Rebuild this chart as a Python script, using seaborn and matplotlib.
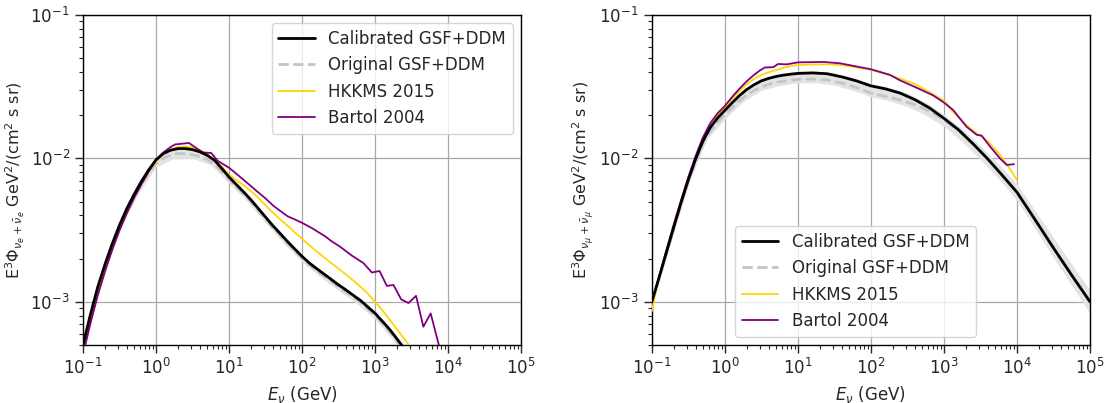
import numpy as np
import matplotlib
matplotlib.use('Agg')
import matplotlib.pyplot as plt
import seaborn as sns

# energies are given as log10(E / GeV)

# ---- electron neutrino panel ----
loge_fine_e = [-1.0, -0.9, -0.8, -0.7, -0.6, -0.5, -0.4, -0.3, -0.2, -0.1, 0.0, 0.1, 0.2, 0.3, 0.4,
               0.5, 0.6, 0.7, 0.8, 0.9, 1.0, 1.1, 1.2, 1.3, 1.4, 1.5, 1.6, 1.7, 1.8, 1.9, 2.0, 2.1,
               2.2, 2.3, 2.4, 2.5, 2.6, 2.7, 2.8, 2.9, 3.0, 3.1, 3.2, 3.3, 3.4]
cal_e = [5.0e-4, 8.1e-4, 1.26e-3, 1.82e-3, 2.54e-3, 3.43e-3, 4.47e-3, 5.62e-3, 6.92e-3, 8.32e-3,
         9.77e-3, 1.08e-2, 1.14e-2, 1.17e-2, 1.17e-2, 1.15e-2, 1.11e-2, 1.05e-2, 9.7e-3, 8.5e-3,
         7.4e-3, 6.56e-3, 5.82e-3, 5.13e-3, 4.47e-3, 3.89e-3, 3.39e-3, 2.99e-3, 2.63e-3, 2.33e-3,
         2.07e-3, 1.86e-3, 1.70e-3, 1.56e-3, 1.43e-3, 1.31e-3, 1.21e-3, 1.11e-3, 1.02e-3, 9.2e-4,
         8.3e-4, 7.3e-4, 6.4e-4, 5.5e-4, 4.7e-4]
orig_e = [4.8e-4, 7.8e-4, 1.21e-3, 1.75e-3, 2.44e-3, 3.29e-3, 4.29e-3, 5.4e-3, 6.6e-3, 7.9e-3,
          9.2e-3, 1.0e-2, 1.05e-2, 1.08e-2, 1.08e-2, 1.06e-2, 1.03e-2, 9.8e-3, 9.1e-3, 8.1e-3,
          7.1e-3, 6.33e-3, 5.64e-3, 4.98e-3, 4.34e-3, 3.77e-3, 3.29e-3, 2.9e-3, 2.55e-3, 2.26e-3,
          2.01e-3, 1.8e-3, 1.65e-3, 1.51e-3, 1.39e-3, 1.27e-3, 1.17e-3, 1.08e-3, 9.9e-4, 8.9e-4,
          8.0e-4, 7.1e-4, 6.2e-4, 5.3e-4, 4.55e-4]

loge_band_e = [-1.0, -0.75, -0.5, -0.25, 0.0, 0.25, 0.5, 0.75, 1.0, 1.25, 1.5, 1.75, 2.0, 2.25,
               2.5, 2.75, 3.0, 3.25, 3.5]
band_lo_e = [4.55e-4, 1.43e-3, 3.12e-3, 5.6e-3, 8.7e-3, 1.0e-2, 1.0e-2, 9.0e-3, 6.7e-3, 5.0e-3,
             3.55e-3, 2.56e-3, 1.9e-3, 1.49e-3, 1.2e-3, 9.7e-4, 7.55e-4, 5.4e-4, 3.7e-4]
band_hi_e = [5.15e-4, 1.6e-3, 3.53e-3, 6.4e-3, 1.0e-2, 1.2e-2, 1.18e-2, 1.04e-2, 7.6e-3, 5.65e-3,
             4.0e-3, 2.88e-3, 2.13e-3, 1.68e-3, 1.35e-3, 1.09e-3, 8.6e-4, 6.15e-4, 4.25e-4]

loge_hk_e = [-1.0, -0.9, -0.8, -0.7, -0.6, -0.5, -0.4, -0.3, -0.2, -0.1, 0.0, 0.1, 0.2, 0.3, 0.4,
             0.5, 0.6, 0.7, 0.8, 0.9, 1.0, 1.1, 1.2, 1.3, 1.4, 1.5, 1.6, 1.7, 1.8, 1.9, 2.0, 2.1,
             2.2, 2.3, 2.4, 2.5, 2.6, 2.7, 2.8, 2.9, 3.0, 3.1, 3.2, 3.3, 3.4, 3.5]
hk_e = [4.6e-4, 7.5e-4, 1.17e-3, 1.7e-3, 2.4e-3, 3.25e-3, 4.25e-3, 5.38e-3, 6.65e-3, 8.05e-3,
        9.5e-3, 1.07e-2, 1.15e-2, 1.2e-2, 1.21e-2, 1.19e-2, 1.14e-2, 1.07e-2, 9.8e-3, 8.75e-3,
        7.7e-3, 7.05e-3, 6.5e-3, 5.9e-3, 5.3e-3, 4.7e-3, 4.18e-3, 3.75e-3, 3.4e-3, 3.05e-3,
        2.75e-3, 2.48e-3, 2.25e-3, 2.04e-3, 1.86e-3, 1.7e-3, 1.55e-3, 1.41e-3, 1.27e-3, 1.14e-3,
        1.0e-3, 8.7e-4, 7.5e-4, 6.4e-4, 5.5e-4, 4.7e-4]

loge_ba_e = [-1.0, -0.9, -0.8, -0.7, -0.6, -0.5, -0.4, -0.3, -0.2, -0.1, 0.0, 0.1, 0.2, 0.26, 0.45,
             0.55, 0.64, 0.755, 0.845, 1.0, 1.1, 1.2, 1.3, 1.38, 1.5, 1.6, 1.7, 1.8, 1.9, 2.0, 2.14,
             2.32, 2.4, 2.52, 2.68, 2.84, 2.955, 3.06, 3.16, 3.25, 3.356, 3.456, 3.56, 3.66, 3.76, 3.9]
ba_e = [4.3e-4, 7.0e-4, 1.1e-3, 1.62e-3, 2.3e-3, 3.15e-3, 4.15e-3, 5.3e-3, 6.6e-3, 8.1e-3, 9.8e-3,
        1.1e-2, 1.2e-2, 1.25e-2, 1.28e-2, 1.18e-2, 1.1e-2, 1.09e-2, 9.6e-3, 8.6e-3, 7.8e-3, 7.07e-3,
        6.4e-3, 5.9e-3, 5.25e-3, 4.7e-3, 4.3e-3, 3.95e-3, 3.75e-3, 3.55e-3, 3.25e-3, 2.85e-3,
        2.65e-3, 2.42e-3, 2.1e-3, 1.86e-3, 1.6e-3, 1.64e-3, 1.29e-3, 1.31e-3, 1.04e-3, 9.8e-4,
        1.1e-3, 6.7e-4, 8.3e-4, 4.4e-4]

# ---- muon neutrino panel ----
loge_fine_mu = [-1.0, -0.9, -0.8, -0.7, -0.6, -0.5, -0.4, -0.3, -0.2, -0.1, 0.0, 0.1, 0.2, 0.3, 0.4,
                0.5, 0.6, 0.7, 0.8, 0.9, 1.0, 1.2, 1.4, 1.6, 1.8, 2.0, 2.2, 2.4, 2.6, 2.8, 3.0, 3.2,
                3.4, 3.6, 3.8, 4.0, 4.25, 4.5, 4.75, 5.0]
cal_mu = [1.0e-3, 1.48e-3, 2.21e-3, 3.31e-3, 4.9e-3, 7.1e-3, 9.9e-3, 1.32e-2, 1.64e-2, 1.91e-2,
          2.16e-2, 2.44e-2, 2.74e-2, 3.02e-2, 3.26e-2, 3.47e-2, 3.61e-2, 3.72e-2, 3.8e-2, 3.86e-2,
          3.91e-2, 3.94e-2, 3.89e-2, 3.7e-2, 3.47e-2, 3.2e-2, 3.05e-2, 2.85e-2, 2.57e-2, 2.25e-2,
          1.9e-2, 1.58e-2, 1.26e-2, 9.9e-3, 7.6e-3, 5.8e-3, 3.72e-3, 2.37e-3, 1.53e-3, 1.0e-3]
orig_mu = [1.0e-3, 1.46e-3, 2.17e-3, 3.24e-3, 4.78e-3, 6.9e-3, 9.5e-3, 1.26e-2, 1.55e-2, 1.79e-2,
           2.01e-2, 2.25e-2, 2.52e-2, 2.76e-2, 2.97e-2, 3.15e-2, 3.28e-2, 3.38e-2, 3.45e-2, 3.5e-2,
           3.55e-2, 3.57e-2, 3.52e-2, 3.35e-2, 3.12e-2, 2.85e-2, 2.7e-2, 2.55e-2, 2.37e-2, 2.14e-2,
           1.86e-2, 1.57e-2, 1.26e-2, 9.9e-3, 7.6e-3, 5.8e-3, 3.72e-3, 2.37e-3, 1.53e-3, 1.0e-3]

loge_band_mu = [-1.0, -0.75, -0.5, -0.25, 0.0, 0.25, 0.5, 0.75, 1.0, 1.25, 1.5, 1.75, 2.0, 2.25,
                2.5, 2.75, 3.0, 3.25, 3.5, 3.75, 4.0, 4.25, 4.5, 4.75, 5.0]
band_lo_mu = [9.3e-4, 2.5e-3, 6.6e-3, 1.35e-2, 1.88e-2, 2.48e-2, 2.98e-2, 3.22e-2, 3.36e-2, 3.37e-2,
              3.24e-2, 2.98e-2, 2.68e-2, 2.52e-2, 2.3e-2, 2.0e-2, 1.67e-2, 1.31e-2, 9.8e-3, 7.2e-3,
              5.1e-3, 3.22e-3, 2.03e-3, 1.3e-3, 8.3e-4]
band_hi_mu = [1.05e-3, 2.83e-3, 7.5e-3, 1.56e-2, 2.24e-2, 2.99e-2, 3.6e-2, 3.9e-2, 4.05e-2, 4.07e-2,
              3.94e-2, 3.66e-2, 3.33e-2, 3.13e-2, 2.85e-2, 2.46e-2, 2.02e-2, 1.61e-2, 1.22e-2, 9.1e-3,
              6.6e-3, 4.3e-3, 2.8e-3, 1.82e-3, 1.2e-3]

loge_hk_mu = [-1.0, -0.95, -0.9, -0.8, -0.7, -0.6, -0.5, -0.4, -0.3, -0.2, -0.1, 0.0, 0.1, 0.2, 0.3,
              0.4, 0.5, 0.6, 0.7, 0.8, 0.9, 1.0, 1.2, 1.4, 1.6, 1.8, 2.0, 2.2, 2.4, 2.6, 2.8, 3.0,
              3.127, 3.31, 3.448, 3.585, 3.767, 3.9, 4.0]
hk_mu = [8.6e-4, 1.15e-3, 1.45e-3, 2.2e-3, 3.3e-3, 4.95e-3, 7.2e-3, 1.01e-2, 1.36e-2, 1.72e-2,
         2.0e-2, 2.27e-2, 2.6e-2, 2.95e-2, 3.28e-2, 3.58e-2, 3.82e-2, 3.98e-2, 4.12e-2, 4.28e-2,
         4.4e-2, 4.48e-2, 4.52e-2, 4.52e-2, 4.47e-2, 4.3e-2, 4.14e-2, 3.88e-2, 3.6e-2, 3.3e-2,
         2.9e-2, 2.52e-2, 2.1e-2, 1.7e-2, 1.49e-2, 1.34e-2, 1.06e-2, 8.5e-3, 7.06e-3]

loge_ba_mu = [-0.96, -0.9, -0.8, -0.7, -0.6, -0.5, -0.4, -0.3, -0.2, -0.1, 0.0, 0.1, 0.2, 0.3, 0.4,
              0.48, 0.548, 0.662, 0.73, 0.845, 1.0, 1.35, 1.575, 2.0, 2.26, 2.397, 2.63, 2.85,
              3.0, 3.127, 3.31, 3.448, 3.517, 3.63, 3.767, 3.859, 3.959]
ba_mu = [1.15e-3, 1.5e-3, 2.3e-3, 3.45e-3, 5.1e-3, 7.4e-3, 1.04e-2, 1.4e-2, 1.76e-2, 2.06e-2,
         2.32e-2, 2.68e-2, 3.06e-2, 3.45e-2, 3.82e-2, 4.1e-2, 4.3e-2, 4.32e-2, 4.55e-2, 4.52e-2,
         4.67e-2, 4.7e-2, 4.6e-2, 4.18e-2, 3.82e-2, 3.5e-2, 3.1e-2, 2.75e-2, 2.45e-2, 2.17e-2,
         1.66e-2, 1.46e-2, 1.44e-2, 1.21e-2, 1.0e-2, 9.0e-3, 9.1e-3]

labels = ['Calibrated GSF+DDM', 'Original GSF+DDM', 'HKKMS 2015', 'Bartol 2004']
ylabels = [r'E$^3\Phi_{\nu_e+\bar{\nu}_e}$ GeV$^2$/(cm$^2$ s sr)',
           r'E$^3\Phi_{\nu_\mu+\bar{\nu}_\mu}$ GeV$^2$/(cm$^2$ s sr)']

sns.set_style('white')
plt.rcParams['font.family'] = ['DejaVu Sans']
plt.rcParams['mathtext.fontset'] = 'dejavusans'


def draw_panel(ax, loge_fine, cal, orig, loge_band, lo, hi, loge_hk, hk, loge_ba, ba, ylabel, legend_kw):
    e_fine = 10 ** np.array(loge_fine)
    ax.fill_between(10 ** np.array(loge_band), lo, hi, color='#e3e3e3', lw=0, zorder=1)
    sns.lineplot(x=e_fine, y=cal, ax=ax, color='black', lw=2, label=labels[0],
                 sort=False, estimator=None, zorder=5)
    sns.lineplot(x=e_fine, y=orig, ax=ax, color='#c4c4c4', lw=2, ls='--', dashes=(3, 2),
                 label=labels[1], sort=False, estimator=None, zorder=3)
    sns.lineplot(x=10 ** np.array(loge_hk), y=hk, ax=ax, color='gold', lw=1.3, label=labels[2],
                 sort=False, estimator=None, zorder=4)
    sns.lineplot(x=10 ** np.array(loge_ba), y=ba, ax=ax, color='purple', lw=1.3, label=labels[3],
                 sort=False, estimator=None, zorder=4)
    ax.set_xscale('log')
    ax.set_yscale('log')
    ax.set_xlim(1e-1, 1e5)
    ax.set_ylim(5e-4, 1e-1)
    ax.grid(True, which='major', color='#a8a8a8', lw=0.9)
    ax.set_axisbelow(True)
    ax.tick_params(which='major', direction='out', length=6, width=1, labelsize=12,
                   bottom=True, left=True)
    ax.tick_params(which='minor', direction='out', length=3, width=0.8, bottom=True, left=True)
    for s in ax.spines.values():
        s.set_color('black')
        s.set_linewidth(1)
    ax.set_xlabel(r'$E_\nu$ (GeV)', fontsize=12)
    ax.set_ylabel(ylabel, fontsize=11.5, labelpad=2)
    ax.legend(fontsize=12, handlelength=2.2, **legend_kw)


fig, axes = plt.subplots(1, 2, figsize=(11.1, 4.03), dpi=100)
fig.subplots_adjust(left=0.0748, right=0.982, bottom=0.144, top=0.963, wspace=0.298)

draw_panel(axes[0], loge_fine_e, cal_e, orig_e, loge_band_e, band_lo_e, band_hi_e,
           loge_hk_e, hk_e, loge_ba_e, ba_e, ylabels[0], dict(loc='upper right'))
draw_panel(axes[1], loge_fine_mu, cal_mu, orig_mu, loge_band_mu, band_lo_mu, band_hi_mu,
           loge_hk_mu, hk_mu, loge_ba_mu, ba_mu, ylabels[1],
           dict(loc='lower center', bbox_to_anchor=(0.465, 0.0)))

fig.savefig('out.png', dpi=100)
